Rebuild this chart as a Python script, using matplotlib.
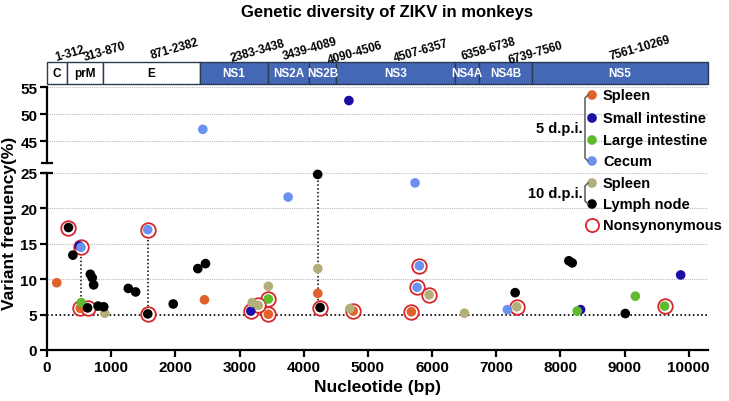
import matplotlib.pyplot as plt
import numpy as np

plt.rcParams['font.family'] = ['Liberation Sans', 'DejaVu Sans']
plt.rcParams['font.weight'] = 'bold'

# gene map
genes = ['C', 'prM', 'E', 'NS1', 'NS2A', 'NS2B', 'NS3', 'NS4A', 'NS4B', 'NS5']
gene_start = [1, 313, 871, 2383, 3439, 4090, 4507, 6358, 6739, 7561]
gene_end = [312, 870, 2382, 3438, 4089, 4506, 6357, 6738, 7560, 10269]
gene_range_labels = ['1-312', '313-870', '871-2382', '2383-3438', '3439-4089',
                     '4090-4506', '4507-6357', '6358-6738', '6739-7560', '7561-10269']
range_label_x = [360, 900, 1995, 3290, 4100, 4800, 5830, 6880, 7620, 9240]
range_label_y = [1.40, 1.50, 1.62, 1.55, 1.60, 1.45, 1.55, 1.62, 1.45, 1.68]

# variants: x = nucleotide, y = frequency (%), ns = nonsynonymous
spleen5_x = [152, 518, 2454, 3449, 4220, 4772, 5678]
spleen5_y = [9.5, 5.9, 7.1, 5.05, 8.0, 5.5, 5.4]
spleen5_ns = [0, 1, 0, 1, 0, 1, 1]

small_x = [502, 3176, 4704, 8315, 9874]
small_y = [14.7, 5.5, 52.5, 5.7, 10.6]
small_ns = [0, 1, 0, 0, 0]

large_x = [534, 3449, 8262, 9168, 9623]
large_y = [6.7, 7.2, 5.5, 7.6, 6.2]
large_ns = [0, 1, 0, 0, 1]

cecum_x = [530, 1570, 2428, 3757, 5735, 5767, 5803, 7174]
cecum_y = [14.5, 17.0, 47.2, 21.6, 23.6, 8.85, 11.9, 5.7]
cecum_ns = [1, 1, 0, 0, 0, 1, 1, 0]

spleen10_x = [900, 3197, 3292, 3449, 4220, 4720, 5955, 6505, 7320]
spleen10_y = [5.2, 6.7, 6.3, 9.0, 11.5, 5.85, 7.8, 5.2, 6.1]
spleen10_ns = [0, 0, 1, 0, 0, 0, 1, 0, 1]

lymph_x = [335, 403, 633, 675, 705, 727, 796, 884, 1267, 1381, 1570, 1967,
           2350, 2470, 4218, 4255, 7295, 8132, 8184, 9011]
lymph_y = [17.3, 13.4, 5.95, 10.7, 10.2, 9.2, 6.2, 6.1, 8.7, 8.2, 5.1, 6.5,
           11.5, 12.2, 24.8, 6.0, 8.1, 12.6, 12.3, 5.15]
lymph_ns = [1, 0, 1, 0, 0, 0, 0, 0, 0, 0, 1, 0, 0, 0, 0, 1, 0, 0, 0, 0]

# dotted links between the same site in different tissues
link_x = [530, 1570, 4218]
link_y0 = [5.9, 5.1, 6.0]
link_y1 = [14.5, 17.0, 24.8]

series = [
    ('Spleen', spleen5_x, spleen5_y, spleen5_ns, '#E0612B'),
    ('Small intestine', small_x, small_y, small_ns, '#1C0DA6'),
    ('Large intestine', large_x, large_y, large_ns, '#5DBB2C'),
    ('Cecum', cecum_x, cecum_y, cecum_ns, '#6C92EF'),
    ('Spleen', spleen10_x, spleen10_y, spleen10_ns, '#B5AD7A'),
    ('Lymph node', lymph_x, lymph_y, lymph_ns, '#000000'),
]
ring_color = '#D8262B'
box_blue = '#4467B6'

W, H = 729, 402
fig = plt.figure(figsize=(W / 100, H / 100), dpi=100)


def fx(px):
    return px / W


def fy(py):
    return 1 - py / H


x0, x1 = 47, 708
ax_lo = fig.add_axes([fx(x0), fy(351), fx(x1 - x0), fy(174) - fy(351)])
ax_hi = fig.add_axes([fx(x0), fy(164), fx(x1 - x0), fy(88) - fy(164)], sharex=ax_lo)
ax_gene = fig.add_axes([fx(x0), fy(85), fx(x1 - x0), fy(63) - fy(85)], sharex=ax_lo)

xmax = 10300
ax_lo.set_xlim(0, xmax)
ax_lo.set_ylim(0, 25)
ax_hi.set_ylim(41, 55)

split = 30
for ax in (ax_lo, ax_hi):
    for x, a, b in zip(link_x, link_y0, link_y1):
        ax.plot([x, x], [a, b], ls=(0, (1, 1.5)), color='black', lw=1.1, zorder=2)
    for name, xs, ys, ns, col in series:
        xs = np.array(xs); ys = np.array(ys); ns = np.array(ns, bool)
        sel = ys < split if ax is ax_lo else ys >= split
        m = sel & ns
        if m.any():
            ax.scatter(xs[m], ys[m], s=110, facecolor='white', edgecolor=ring_color,
                       linewidth=1.3, zorder=3, clip_on=False)
    for name, xs, ys, ns, col in series:
        xs = np.array(xs); ys = np.array(ys)
        sel = ys < split if ax is ax_lo else ys >= split
        if sel.any():
            ax.scatter(xs[sel], ys[sel], s=48, color=col, edgecolor='none', zorder=4,
                       clip_on=False)

# grid lines
for yv in [10, 15, 20, 25]:
    ax_lo.axhline(yv, color='#BBBBBB', lw=0.8, ls=(0, (1, 1)), zorder=1)
ax_lo.axhline(5, color='black', lw=1.2, ls=(0, (1, 1.5)), zorder=1)
for yv in [45, 50, 55]:
    ax_hi.axhline(yv, color='#BBBBBB', lw=0.8, ls=(0, (1, 1)), zorder=1)

ax_lo.set_xticks(np.arange(0, 10001, 1000))
ax_lo.set_yticks([0, 5, 10, 15, 20, 25])
ax_lo.yaxis.remove_overlapping_locs = False
ax_lo.set_yticks([25], minor=True)
ax_hi.set_yticks([45, 50, 55])
ax_hi.set_yticks([41], minor=True)
for ax in (ax_lo, ax_hi):
    ax.spines['top'].set_visible(False)
    ax.spines['right'].set_visible(False)
    ax.spines['left'].set_linewidth(1.6)
    ax.spines['bottom'].set_linewidth(1.6)
    ax.tick_params(width=1.6, length=5, labelsize=11, pad=2)
    ax.tick_params(axis='y', which='minor', width=1.6, length=8, direction='inout')
    for lab in ax.get_xticklabels() + ax.get_yticklabels():
        lab.set_fontweight('bold')
ax_lo.tick_params(axis='x', which='minor', bottom=False)
ax_hi.spines['bottom'].set_visible(False)
ax_hi.tick_params(axis='x', which='both', bottom=False, labelbottom=False)
ax_hi.patch.set_alpha(0)
ax_lo.patch.set_alpha(0)

ax_lo.set_xlabel('Nucleotide (bp)', fontsize=12.5, fontweight='bold', labelpad=4)
fig.text(fx(10), fy(223), 'Variant frequency(%)', rotation=90, fontsize=12.5,
         fontweight='bold', ha='center', va='center')

# gene map
ax_gene.set_ylim(0, 1)
ax_gene.axis('off')
for i, (g, a, b) in enumerate(zip(genes, gene_start, gene_end)):
    left = 0 if i == 0 else a - 1
    right = xmax if i == len(genes) - 1 else b
    fc = 'white' if i < 3 else box_blue
    ax_gene.add_patch(plt.Rectangle((left, 0), right - left, 1, facecolor=fc,
                                    edgecolor='#2B3A55', lw=1.0, clip_on=False))
    ax_gene.text((left + right) / 2, 0.5, g, ha='center', va='center', fontsize=8.5,
                 fontweight='bold', color='black' if i < 3 else 'white')
    ax_gene.text(range_label_x[i], range_label_y[i], gene_range_labels[i], rotation=16,
                 rotation_mode='anchor', ha='center', va='center', fontsize=8.5,
                 fontweight='bold')

fig.text(fx(387), fy(13), 'Genetic diversity of ZIKV in monkeys', ha='center',
         va='center', fontsize=12, fontweight='bold')

# legend in pixel coordinates
lg = fig.add_axes([0, 0, 1, 1])
lg.set_xlim(0, W)
lg.set_ylim(H, 0)
lg.axis('off')
leg_y = [96, 119, 141, 162, 184, 205]
for (name, xs, ys, ns, col), yy in zip(series, leg_y):
    lg.scatter([592], [yy], s=48, color=col, edgecolor='none')
    lg.text(603, yy, name, ha='left', va='center', fontsize=10.5, fontweight='bold')
lg.scatter([592], [226], s=90, facecolor='white', edgecolor=ring_color, linewidth=1.3)
lg.text(603, 226, 'Nonsynonymous', ha='left', va='center', fontsize=10.5,
        fontweight='bold')
for top, bot, lab in [(96, 162, '5 d.p.i.'), (184, 205, '10 d.p.i.')]:
    lg.plot([588, 585, 585, 588], [top, top + 3, bot - 3, bot], color='#666666', lw=1.2)
    lg.text(583, (top + bot) / 2, lab, ha='right', va='center', fontsize=10.5,
            fontweight='bold')

fig.savefig('out.png', dpi=100)
